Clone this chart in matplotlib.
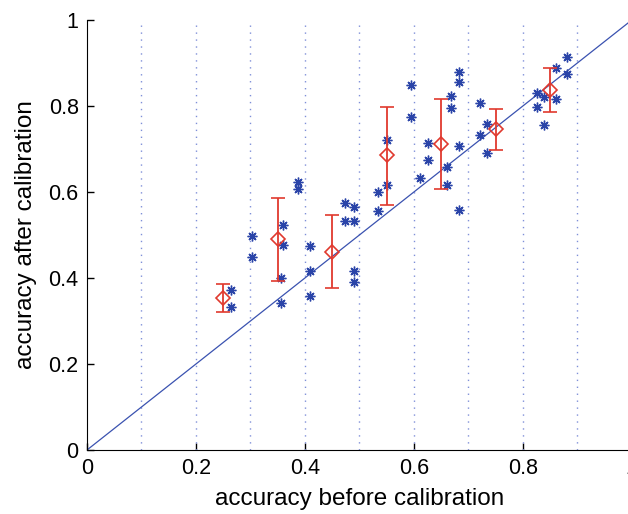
import numpy as np
import matplotlib
matplotlib.use("Agg")
import matplotlib.pyplot as plt

plt.rcParams['font.family'] = ['Liberation Sans', 'DejaVu Sans']

# individual runs: accuracy before / after calibration
acc_before = [0.264, 0.264,
              0.303, 0.303, 0.360, 0.360, 0.356, 0.356, 0.387, 0.387,
              0.409, 0.409, 0.409, 0.473, 0.490, 0.473, 0.490, 0.490, 0.490,
              0.534, 0.550, 0.550, 0.534, 0.594, 0.594,
              0.611, 0.626, 0.626, 0.668, 0.668, 0.683, 0.683, 0.660, 0.660, 0.683, 0.683,
              0.721, 0.721, 0.734, 0.734,
              0.826, 0.826, 0.838, 0.838, 0.861, 0.861, 0.881, 0.881]
acc_after = [0.372, 0.333,
             0.498, 0.449, 0.523, 0.477, 0.400, 0.342, 0.623, 0.607,
             0.474, 0.416, 0.358, 0.574, 0.565, 0.533, 0.533, 0.416, 0.391,
             0.556, 0.616, 0.721, 0.600, 0.849, 0.774,
             0.633, 0.714, 0.674, 0.795, 0.823, 0.879, 0.856, 0.658, 0.616, 0.707, 0.558,
             0.807, 0.733, 0.758, 0.691,
             0.830, 0.798, 0.821, 0.756, 0.888, 0.816, 0.914, 0.874]

# binned means with error bars
bin_centers = [0.25, 0.35, 0.45, 0.55, 0.65, 0.75, 0.85]
bin_mean = [0.353, 0.490, 0.461, 0.686, 0.712, 0.746, 0.837]
bin_upper = [0.386, 0.585, 0.547, 0.798, 0.816, 0.794, 0.889]
bin_lower = [0.321, 0.393, 0.377, 0.570, 0.608, 0.698, 0.785]

grid_x = [0.1, 0.2, 0.3, 0.4, 0.5, 0.6, 0.7, 0.8, 0.9]

fig = plt.figure(figsize=(6.28, 5.14), dpi=100)
ax = fig.add_axes([0.1385, 0.1245, 0.8675, 0.8365])

for gx in grid_x:
    ax.plot([gx, gx], [0, 1], color='#7f8fd8', linestyle=(0, (1, 4)), linewidth=1.0)

ax.plot([0, 1], [0, 1], color='#3a52b0', linewidth=0.9)

# matlab style '*' marker (8 arms)
ax.plot(acc_before, acc_after, linestyle='none', marker=(8, 2, 0),
        markersize=7, markeredgewidth=1.0, color='#2a44a8')

mean = np.array(bin_mean)
yerr = [mean - np.array(bin_lower), np.array(bin_upper) - mean]
ax.errorbar(bin_centers, bin_mean, yerr=yerr, fmt='D', color='#e0392e',
            markerfacecolor='none', markeredgecolor='#e0392e', markersize=7,
            markeredgewidth=1.2, elinewidth=1.3, capsize=5, capthick=1.3)

ax.set_xlim(0, 1)
ax.set_ylim(0, 1)
ax.set_xticks([0, 0.2, 0.4, 0.6, 0.8, 1])
ax.set_yticks([0, 0.2, 0.4, 0.6, 0.8, 1])
ax.set_xticklabels(['0', '0.2', '0.4', '0.6', '0.8', '1'])
ax.set_yticklabels(['0', '0.2', '0.4', '0.6', '0.8', '1'])
ax.tick_params(direction='in', length=5, width=1, labelsize=15.5, pad=6)
ax.spines['top'].set_visible(False)
ax.spines['right'].set_visible(False)
ax.set_xlabel('accuracy before calibration', fontsize=17.5, labelpad=6)
ax.set_ylabel('accuracy after calibration', fontsize=17.5, labelpad=8)

fig.savefig('out.png', dpi=100)
